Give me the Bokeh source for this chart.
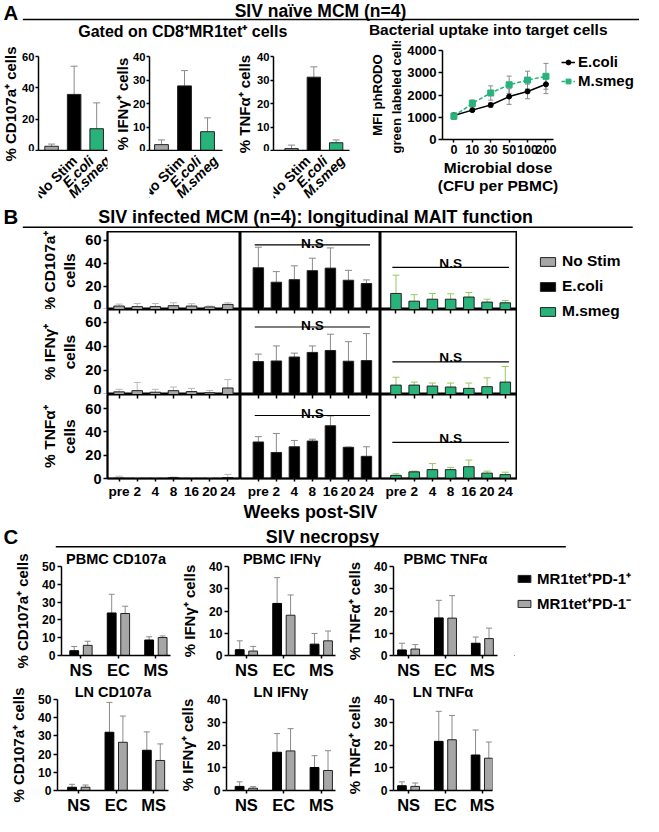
import math
from bokeh.plotting import figure
from bokeh.models import (Range1d, FixedTicker, LinearAxis, Whisker, TeeHead,
                          ColumnDataSource, Legend, LegendItem, Spacer)
from bokeh.layouts import row, column
from bokeh.embed import file_html
from bokeh.resources import INLINE
from bokeh.core.properties import value

# ---------------- data ----------------
a_groups = ["No Stim", "E.coli", "M.smeg"]
a_cd107a = [2.7, 35.8, 13.9]
a_cd107a_err = [1.4, 18.0, 16.5]
a_ifng = [2.5, 27.5, 8.0]
a_ifng_err = [2.0, 6.5, 5.9]
a_tnfa = [0.8, 31.2, 3.3]
a_tnfa_err = [1.5, 4.4, 1.2]

doses = ["0", "10", "30", "50", "100", "200"]
ecoli_mfi = [1080, 1320, 1550, 1930, 2160, 2480]
ecoli_sd = [100, 60, 100, 350, 330, 420]
msmeg_mfi = [1050, 1620, 2090, 2460, 2670, 2840]
msmeg_sd = [150, 160, 320, 390, 400, 580]

weeks = ["pre", "2", "4", "8", "16", "20", "24"]
b_cd107a_nostim = [3.0, 2.5, 2.5, 3.3, 3.0, 2.2, 4.4]
b_cd107a_nostim_err = [1.7, 2.7, 2.7, 2.5, 2.0, 0.8, 1.4]
b_cd107a_ecoli = [36.1, 23.6, 25.8, 33.6, 35.8, 25.3, 22.5]
b_cd107a_ecoli_err = [17.8, 9.2, 12.0, 10.8, 17.5, 8.6, 3.1]
b_cd107a_msmeg = [13.9, 7.2, 8.9, 8.9, 10.8, 6.4, 5.8]
b_cd107a_msmeg_err = [15.8, 5.6, 5.0, 4.7, 3.9, 2.5, 2.0]
b_ifng_nostim = [2.2, 3.2, 1.9, 3.2, 2.4, 1.4, 5.4]
b_ifng_nostim_err = [2.1, 6.8, 2.4, 3.0, 2.7, 1.8, 7.0]
b_ifng_ecoli = [27.3, 27.8, 31.1, 34.9, 36.5, 27.6, 28.1]
b_ifng_ecoli_err = [6.2, 12.5, 3.2, 5.4, 13.5, 16.2, 22.4]
b_ifng_msmeg = [7.8, 7.8, 7.0, 6.2, 5.1, 6.5, 10.3]
b_ifng_msmeg_err = [6.5, 2.5, 2.5, 3.3, 4.4, 7.3, 12.9]
b_tnfa_nostim = [0.3, 0.2, 0.2, 0.8, 0.1, 0.2, 0.8]
b_tnfa_nostim_err = [1.7, 0.6, 0.4, 0.4, 0.2, 0.6, 2.7]
b_tnfa_ecoli = [31.3, 22.3, 27.2, 32.1, 45.2, 26.7, 19.0]
b_tnfa_ecoli_err = [4.6, 16.3, 5.4, 1.6, 8.4, 0.3, 8.2]
b_tnfa_msmeg = [2.7, 5.7, 7.6, 7.6, 10.1, 4.6, 3.3]
b_tnfa_msmeg_err = [1.4, 0.6, 5.2, 1.9, 5.7, 1.7, 2.1]

c_groups = ["NS", "EC", "MS"]
pbmc_cd107a_pos = [2.7, 23.9, 8.7]
pbmc_cd107a_pos_err = [2.4, 10.5, 1.8]
pbmc_cd107a_neg = [5.7, 23.6, 10.1]
pbmc_cd107a_neg_err = [2.3, 4.1, 0.9]
pbmc_ifng_pos = [2.6, 23.4, 5.1]
pbmc_ifng_pos_err = [4.0, 11.6, 4.8]
pbmc_ifng_neg = [2.0, 18.1, 6.6]
pbmc_ifng_neg_err = [2.1, 9.1, 4.4]
pbmc_tnfa_pos = [2.5, 16.9, 5.5]
pbmc_tnfa_pos_err = [3.0, 7.9, 2.8]
pbmc_tnfa_neg = [2.9, 16.8, 7.6]
pbmc_tnfa_neg_err = [2.0, 10.1, 4.7]
ln_cd107a_pos = [1.8, 32.0, 22.1]
ln_cd107a_pos_err = [1.6, 16.4, 10.1]
ln_cd107a_neg = [1.8, 26.5, 16.5]
ln_cd107a_neg_err = [1.2, 14.4, 9.1]
ln_ifng_pos = [1.8, 16.8, 10.1]
ln_ifng_pos_err = [2.0, 8.2, 5.2]
ln_ifng_neg = [1.0, 17.4, 8.8]
ln_ifng_neg_err = [0.7, 9.8, 8.7]
ln_tnfa_pos = [2.1, 21.6, 15.6]
ln_tnfa_pos_err = [1.7, 13.2, 11.0]
ln_tnfa_neg = [1.8, 22.3, 14.2]
ln_tnfa_neg_err = [1.5, 10.7, 7.1]

# ---------------- style ----------------
FONT = "Liberation Sans"
S = 0.970
GRAY = "#a6a6a6"
GREEN = "#27b37a"
ERR = "#8a8a8a"
ERR_L = "#b8b8b8"
ERR_G = "#96c95f"


def R(v):
    return int(round(v * S))


def fs(v):
    return "%.1fpx" % (v * S)


def mkfig(x0, x1, y0, y1, fx0, fx1, fy0, fy1, xr, yr, **kw):
    p = figure(width=R(x1) - R(x0), height=R(y1) - R(y0), min_border=0,
               min_border_left=R(fx0) - R(x0), min_border_right=R(x1) - R(fx1),
               min_border_top=R(fy0) - R(y0), min_border_bottom=R(y1) - R(fy1),
               x_range=Range1d(*xr), y_range=Range1d(*yr),
               output_backend="svg", toolbar_location=None, tools="", **kw)
    p.grid.visible = False
    p.outline_line_color = None
    p.background_fill_color = "white"
    p.border_fill_color = "white"
    return p


def bare(x0, x1, y0, y1, xr, yr):
    return mkfig(x0, x1, y0, y1, x0, x1, y0, y1, xr, yr,
                 x_axis_location=None, y_axis_location=None)


def sty(ax, tick_fs, lab_fs=None, tick_out=4, lw=1.5, tick_standoff=2, label_standoff=3, lh=1.2):
    ax.axis_line_width = lw
    ax.axis_line_color = "black"
    ax.major_tick_line_width = lw
    ax.major_tick_line_color = "black"
    ax.major_tick_in = 0
    ax.major_tick_out = tick_out
    ax.minor_tick_line_color = None
    ax.major_label_text_font = FONT
    ax.major_label_text_font_style = "bold"
    ax.major_label_text_font_size = fs(tick_fs)
    ax.major_label_text_color = "black"
    ax.major_label_standoff = tick_standoff
    ax.axis_label_text_font = FONT
    ax.axis_label_text_font_style = "bold"
    ax.axis_label_text_color = "black"
    ax.axis_label_text_line_height = lh
    if lab_fs:
        ax.axis_label_text_font_size = fs(lab_fs)
    ax.axis_label_standoff = label_standoff


def whisk(p, xs, lo, hi, color, head=6, both=False, lw=1):
    src = ColumnDataSource(dict(x=list(xs), lo=list(lo), hi=list(hi)))
    w = Whisker(source=src, base="x", lower="lo", upper="hi", dimension="height",
                line_color=color, line_width=lw,
                upper_head=TeeHead(size=R(head), line_color=color, line_width=lw),
                lower_head=TeeHead(size=R(head), line_color=color, line_width=lw) if both else None)
    p.add_layout(w)


def title_strip(x0, x1, y0, y1, fy0, fy1, label, size, lh=1.2):
    # narrow strip whose only content is a vertical axis title, centred on rows fy0..fy1
    p = mkfig(x0, x1, y0, y1, x1 - 2, x1, fy0, fy1, (0, 1), (0, 1), x_axis_location=None)
    ax = p.yaxis[0]
    ax.ticker = FixedTicker(ticks=[])
    ax.axis_line_color = None
    ax.major_tick_line_color = None
    ax.minor_tick_line_color = None
    ax.major_label_text_font_size = "0px"
    ax.major_label_text_color = None
    ax.major_label_standoff = 0
    ax.major_tick_out = 0
    ax.axis_label = label
    ax.axis_label_text_font = FONT
    ax.axis_label_text_font_style = "bold"
    ax.axis_label_text_font_size = fs(size)
    ax.axis_label_text_color = "black"
    ax.axis_label_text_line_height = lh
    ax.axis_label_standoff = 0
    return p


def header(y0, y1, texts, lines):
    p = bare(0, 659, y0, y1, (0, 659), (-y1, -y0))
    for (t, x, y, size, align) in texts:
        p.text(x=[x], y=[-y], text=[t], text_font=value(FONT), text_font_style="bold",
               text_font_size=fs(size), text_align=align, text_baseline="middle",
               text_color="black")
    for (xa, xb, y) in lines:
        p.segment(x0=[xa], y0=[-y], x1=[xb], y1=[-y], line_color="black", line_width=1.5)
    return p


def legend_fig(x0, x1, y0, y1, entries, font, gw, gh, lab_h, spacing, padding, margin, standoff):
    p = bare(x0, x1, y0, y1, (0, 1), (0, 1))
    items = []
    for label, kind, color, dash in entries:
        # off-screen stand-in renderers, used only to draw the legend glyphs
        if kind == "bar":
            r = p.vbar(x=[-9], top=[-9], width=1, fill_color=color, line_color="#222222", line_width=1)
            items.append(LegendItem(label=label, renderers=[r]))
        else:
            rl = p.line(x=[-9, -8], y=[-9, -9], line_color=color, line_width=1.5, line_dash=dash)
            rs = p.scatter(x=[-9], y=[-9], marker=kind, size=R(6), fill_color=color, line_color=color)
            items.append(LegendItem(label=label, renderers=[rl, rs]))
    leg = Legend(items=items, location="top_left", label_text_font=FONT,
                 label_text_font_style="bold", label_text_font_size=fs(font),
                 label_text_color="black",
                 glyph_width=R(gw), glyph_height=R(gh), label_height=R(lab_h),
                 spacing=R(spacing), padding=R(padding), margin=R(margin),
                 label_standoff=R(standoff), border_line_color=None,
                 background_fill_alpha=0)
    p.add_layout(leg)
    return p


def full_range(x0, x1, fx0, fx1, xr):
    a, b = xr
    L = R(fx0) - R(x0)
    W = R(fx1) - R(fx0)
    Rr = R(x1) - R(fx1)
    span = b - a
    return (a - L * span / W, b + Rr * span / W)


# ---------------- panel A ----------------
TOP_A = 42
PLOT_BOT = 156
BOT_A = 207
hA = header(0, TOP_A,
            [("A", 3, 12.5, 21, "left"),
             ("SIV naïve MCM (n=4)", 330, 10.5, 18, "center"),
             ("Gated on CD8⁺MR1tet⁺ cells", 188, 32, 16.5, "center"),
             ("Bacterial uptake into target cells", 503, 29.5, 16, "center")],
            [(23, 659, 19.5)])


def bars_A(lx0, x0, x1, fx0, fx1, xr, vals, errs, ymax, step, ylab, lab_shift):
    lab = title_strip(lx0, x0, TOP_A, BOT_A, 45, 168, ylab, 15.5)
    p = mkfig(x0, x1, TOP_A, PLOT_BOT, fx0, fx1, 58, 155, xr, (0, ymax))
    xs = [0, 1, 2]
    p.vbar(x=xs, top=vals, width=0.6, fill_color=[GRAY, "black", GREEN],
           line_color="#222222", line_width=1)
    whisk(p, xs, vals, [v + e for v, e in zip(vals, errs)], ERR, head=7)
    p.yaxis.ticker = FixedTicker(ticks=list(range(0, ymax + 1, step)))
    p.xaxis.ticker = FixedTicker(ticks=[])
    sty(p.yaxis[0], 11.5, tick_out=3, tick_standoff=1)
    sty(p.xaxis[0], 12, tick_out=0)
    p.xaxis.major_label_text_color = None
    # rotated category labels in a strip below, sharing the same x scale
    q = bare(x0, x1, PLOT_BOT, BOT_A, full_range(x0, x1, fx0, fx1, xr), (-BOT_A, -PLOT_BOT))
    q.text(x=[i + lab_shift for i in xs], y=[-163] * 3, text=a_groups, angle=math.pi / 4,
           text_align="right", text_baseline="middle", text_font=value(FONT),
           text_font_style=["bold", "bold italic", "bold italic"],
           text_font_size=fs(14.5), text_color="black")
    return row(lab, column(p, q))


a1 = bars_A(0, 19, 115, 39, 110, (-0.58, 2.48), a_cd107a, a_cd107a_err, 60, 20,
            "% CD107a⁺ cells", 0.72)
a2 = bars_A(115, 134, 238, 153, 229, (-0.52, 2.65), a_ifng, a_ifng_err, 40, 10,
            "% IFNγ⁺ cells", 0.62)
a3 = bars_A(238, 262, 365, 280, 360, (-0.81, 2.6), a_tnfa, a_tnfa_err, 40, 10,
            "% TNFα⁺ cells", 0.4)

# y-axis title of the uptake chart (offset downward as in the original)
ylab_fig = title_strip(365, 417, TOP_A, BOT_A, 50, 190, "MFI phRODO\ngreen labeled cells",
                       13.5, lh=1.25)

pl = mkfig(417, 575, TOP_A, BOT_A, 453, 570, 52, 143, (-0.62, 5.41), (0, 4000))
xs6 = list(range(len(doses)))
whisk(pl, xs6, [v - e for v, e in zip(ecoli_mfi, ecoli_sd)],
      [v + e for v, e in zip(ecoli_mfi, ecoli_sd)], ERR, head=5, both=True)
whisk(pl, xs6, [v - e for v, e in zip(msmeg_mfi, msmeg_sd)],
      [v + e for v, e in zip(msmeg_mfi, msmeg_sd)], ERR, head=5, both=True)
pl.line(x=xs6, y=ecoli_mfi, line_color="black", line_width=1.5)
pl.scatter(x=xs6, y=ecoli_mfi, marker="circle", size=R(5), color="black")
pl.line(x=xs6, y=msmeg_mfi, line_color=GREEN, line_width=1.5, line_dash="4 2")
pl.scatter(x=xs6, y=msmeg_mfi, marker="square", size=R(6), color=GREEN)
pl.yaxis.ticker = FixedTicker(ticks=[0, 1000, 2000, 3000, 4000])
pl.xaxis.ticker = FixedTicker(ticks=xs6)
pl.xaxis.major_label_overrides = {i: d for i, d in enumerate(doses)}
sty(pl.yaxis[0], 13.5, tick_out=4, tick_standoff=2)
sty(pl.xaxis[0], 13, 16, tick_out=3, tick_standoff=2, label_standoff=2, lh=1.1)
pl.xaxis.axis_label = "Microbial dose\n(CFU per PBMC)"

legA = legend_fig(575, 659, 52, BOT_A,
                  [("E.coli", "circle", "black", "solid"), ("M.smeg", "square", GREEN, "4 2")],
                  15.5, 14, 12, 16, 2, 2, 3, 3)
rowA = row(a1, a2, a3, ylab_fig, pl,
           column(Spacer(width=R(659) - R(575), height=R(52) - R(TOP_A)), legA))

# ---------------- panel B ----------------
hB = header(BOT_A, 238,
            [("B", 3, 223, 21, "left"),
             ("SIV infected MCM (n=4): longitudinal MAIT function", 325, 222.5, 18.5, "center")],
            [(23, 652, 233.5)])

b_rows = [
    dict(lab="% CD107a⁺\ncells", y0=238, fy1=319, ymax=67.5,
         vals=[b_cd107a_nostim, b_cd107a_ecoli, b_cd107a_msmeg],
         errs=[b_cd107a_nostim_err, b_cd107a_ecoli_err, b_cd107a_msmeg_err],
         ns=[None, (56, 1), (36.5, 3.5)]),
    dict(lab="% IFNγ⁺\ncells", y0=319, fy1=406, ymax=70.5,
         vals=[b_ifng_nostim, b_ifng_ecoli, b_ifng_msmeg],
         errs=[b_ifng_nostim_err, b_ifng_ecoli_err, b_ifng_msmeg_err],
         ns=[None, (56, 1.5), (27, 3.5)]),
    dict(lab="% TNFα⁺\ncells", y0=406, fy1=497, ymax=72.0,
         vals=[b_tnfa_nostim, b_tnfa_ecoli, b_tnfa_msmeg],
         errs=[b_tnfa_nostim_err, b_tnfa_ecoli_err, b_tnfa_msmeg_err],
         ns=[None, (54, 1.5), (31, 3.5)]),
]
b_cols = [
    dict(x0=0, x1=247, fx0=110, fx1=247, xr=(-0.64, 6.70), color=GRAY, err=ERR_L),
    dict(x0=247, x1=392, fx0=247, fx1=392, xr=(-0.99, 6.78), color="black", err=ERR),
    dict(x0=392, x1=533, fx0=392, fx1=533, xr=(-0.85, 6.67), color=GREEN, err=ERR_G),
]
B_BOT = 540

xs7 = list(range(len(weeks)))
b_row_layouts = []
for r, rs in enumerate(b_rows):
    figs = []
    y1 = rs["fy1"] if r < 2 else B_BOT
    for c, cs in enumerate(b_cols):
        p = mkfig(cs["x0"], cs["x1"], rs["y0"], y1, cs["fx0"], cs["fx1"], rs["y0"], rs["fy1"],
                  cs["xr"], (0, rs["ymax"]),
                  x_axis_location="below" if r == 2 else None,
                  y_axis_location="left" if c == 0 else None)
        p.outline_line_color = "black"
        p.outline_line_width = 2
        vals = rs["vals"][c]
        errs = rs["errs"][c]
        p.vbar(x=xs7, top=vals, width=0.58, fill_color=cs["color"], line_color="#222222",
               line_width=1)
        whisk(p, xs7, vals, [v + e for v, e in zip(vals, errs)], cs["err"], head=7)
        if c == 0:
            p.yaxis.ticker = FixedTicker(ticks=[0, 20, 40, 60])
            sty(p.yaxis[0], 15, 16, tick_out=4, tick_standoff=2, label_standoff=4, lh=1.2)
            p.yaxis.axis_label = rs["lab"]
        if r == 2:
            p.xaxis.ticker = FixedTicker(ticks=xs7)
            p.xaxis.major_label_overrides = {i: w for i, w in enumerate(weeks)}
            sty(p.xaxis[0], 14, 18.5, tick_out=3, tick_standoff=2, label_standoff=0)
            if c == 1:
                p.xaxis.axis_label = "Weeks post-SIV"
        if r >= 1:
            # tick marks hanging from the row above
            ax = LinearAxis(ticker=FixedTicker(ticks=xs7), major_tick_in=4, major_tick_out=0,
                            axis_line_color=None, major_label_text_font_size="0px",
                            major_label_text_color=None,
                            major_label_standoff=0, major_tick_line_width=1.5,
                            minor_tick_line_color=None)
            p.add_layout(ax, "above")
        ns = rs["ns"][c]
        if ns is not None:
            ny, gap = ns
            p.segment(x0=[-0.2], x1=[6.2], y0=[ny], y1=[ny], line_color="black", line_width=1.2)
            p.text(x=[3], y=[ny + gap], text=["N.S"], text_font=value(FONT),
                   text_font_style="bold", text_font_size=fs(14), text_align="center",
                   text_baseline="alphabetic", text_color="black")
        figs.append(p)
    b_row_layouts.append(row(*figs))

legB = legend_fig(533, 659, 238, B_BOT,
                  [("No Stim", "bar", GRAY, None), ("E.coli", "bar", "black", None),
                   ("M.smeg", "bar", GREEN, None)],
                  16, 20, 11, 18, 7, 4, 22, 5)
blockB = row(column(*b_row_layouts), legB)

# ---------------- panel C ----------------
C_TOP = 565
hC = header(B_BOT, C_TOP,
            [("C", 3, 552.5, 21, "left"),
             ("SIV necropsy", 332, 553, 18.5, "center")],
            [(57, 583, 563.3)])

c_specs = [
    [dict(title="PBMC CD107a", ylab="% CD107a⁺ cells", pos=pbmc_cd107a_pos, pos_err=pbmc_cd107a_pos_err,
          neg=pbmc_cd107a_neg, neg_err=pbmc_cd107a_neg_err, ymax=50, x0=0, x1=180, fx0=63, fx1=175,
          xr=(-0.52, 2.39), toff=9),
     dict(title="PBMC IFNγ", ylab="% IFNγ⁺ cells", pos=pbmc_ifng_pos, pos_err=pbmc_ifng_pos_err,
          neg=pbmc_ifng_neg, neg_err=pbmc_ifng_neg_err, ymax=40, x0=180, x1=350, fx0=235, fx1=345,
          xr=(-0.48, 2.38), toff=5),
     dict(title="PBMC TNFα", ylab="% TNFα⁺ cells", pos=pbmc_tnfa_pos, pos_err=pbmc_tnfa_pos_err,
          neg=pbmc_tnfa_neg, neg_err=pbmc_tnfa_neg_err, ymax=40, x0=350, x1=530, fx0=405, fx1=512,
          xr=(-0.41, 2.41), toff=6)],
    [dict(title="LN CD107a", ylab="% CD107a⁺ cells", pos=ln_cd107a_pos, pos_err=ln_cd107a_pos_err,
          neg=ln_cd107a_neg, neg_err=ln_cd107a_neg_err, ymax=50, x0=0, x1=180, fx0=59, fx1=173,
          xr=(-0.57, 2.40), toff=12),
     dict(title="LN IFNγ", ylab="% IFNγ⁺ cells", pos=ln_ifng_pos, pos_err=ln_ifng_pos_err,
          neg=ln_ifng_neg, neg_err=ln_ifng_neg_err, ymax=40, x0=180, x1=350, fx0=233, fx1=345,
          xr=(-0.53, 2.38), toff=4),
     dict(title="LN TNFα", ylab="% TNFα⁺ cells", pos=ln_tnfa_pos, pos_err=ln_tnfa_pos_err,
          neg=ln_tnfa_neg, neg_err=ln_tnfa_neg_err, ymax=40, x0=350, x1=530, fx0=405, fx1=507,
          xr=(-0.41, 2.28), toff=8)],
]
c_rows_y = [(C_TOP, 702, 581, 675), (702, 841, 720, 814)]

c_row_layouts = []
xs3 = [0, 1, 2]
for ri, specs in enumerate(c_specs):
    y0, y1, fy0, fy1 = c_rows_y[ri]
    figs = []
    for cs in specs:
        p = mkfig(cs["x0"], cs["x1"], y0, y1, cs["fx0"], cs["fx1"], fy0, fy1, cs["xr"], (0, cs["ymax"]))
        xp = [x - 0.18 for x in xs3]
        xn = [x + 0.18 for x in xs3]
        p.vbar(x=xp, top=cs["pos"], width=0.235, fill_color="black", line_color="black", line_width=1)
        p.vbar(x=xn, top=cs["neg"], width=0.235, fill_color=GRAY, line_color="#222222", line_width=1)
        whisk(p, xp, cs["pos"], [v + e for v, e in zip(cs["pos"], cs["pos_err"])], ERR, head=6)
        whisk(p, xn, cs["neg"], [v + e for v, e in zip(cs["neg"], cs["neg_err"])], ERR, head=6)
        p.yaxis.ticker = FixedTicker(ticks=list(range(0, cs["ymax"] + 1, 10)))
        p.xaxis.ticker = FixedTicker(ticks=xs3)
        p.xaxis.major_label_overrides = {i: g for i, g in enumerate(c_groups)}
        sty(p.yaxis[0], 12.5, 15.5, tick_out=4, tick_standoff=2, label_standoff=8)
        sty(p.xaxis[0], 17, tick_out=3, tick_standoff=2)
        p.yaxis.axis_label = cs["ylab"]
        p.title.text = cs["title"]
        p.title.align = "center"
        p.title.text_font = FONT
        p.title.text_font_style = "bold"
        p.title.text_font_size = fs(15)
        p.title.text_color = "black"
        p.title.standoff = 0
        p.title.offset = R(cs["toff"])
        figs.append(p)
    if ri == 0:
        legC = legend_fig(530, 659, C_TOP, 702,
                          [("MR1tet⁺PD-1⁺", "bar", "black", None),
                           ("MR1tet⁺PD-1⁻", "bar", GRAY, None)],
                          15.5, 17, 9, 18, 5, 3, 2, 5)
        figs.append(legC)
    c_row_layouts.append(row(*figs))

layout = column(hA, rowA, hB, blockB, hC, *c_row_layouts)

open("out.html", "w").write(file_html(layout, INLINE, "SIV MAIT function"))
